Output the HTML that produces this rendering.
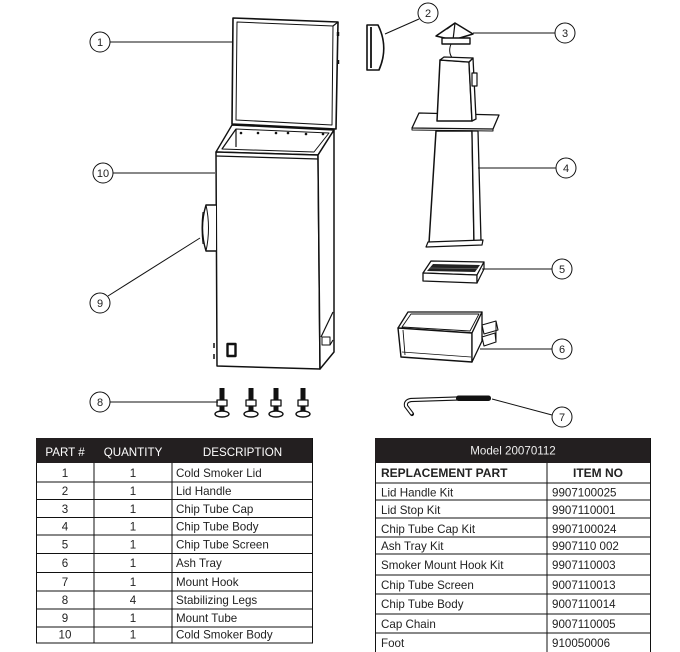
<!DOCTYPE html>
<html><head><meta charset="utf-8"><style>
html,body{margin:0;padding:0;background:#fff;}
svg{display:block;}
text{font-family:"Liberation Sans",Arial,sans-serif;}
</style></head><body>
<svg width="680" height="652" viewBox="0 0 680 652" xmlns="http://www.w3.org/2000/svg">
<rect width="680" height="652" fill="#fff"/>
<g stroke="#111" stroke-width="1.2" fill="none" stroke-linejoin="round">
<!-- LID -->
<polygon points="233,18 338,22 336,129 232,124" fill="#fff" stroke-width="1.6"/>
<polygon points="237,22 333,26 332,125 236,120" stroke-width="1"/>
<line x1="333" y1="26" x2="338" y2="22"/>
<line x1="338" y1="32" x2="338" y2="36" stroke-width="2.5"/>
<line x1="338" y1="60" x2="338" y2="64" stroke-width="2.5"/>
<!-- BODY rim -->
<polygon points="216,152 318,155 334,130 232,125" fill="#fff" stroke-width="1.4"/>
<polygon points="222,149 314,152 329,133 236,129" stroke-width="1"/>
<line x1="236" y1="129" x2="236" y2="147"/>
<line x1="236" y1="129" x2="222" y2="149"/>
<!-- front face -->
<polygon points="216,152 318,155 320,369 217,366" fill="#fff" stroke-width="1.5"/>
<line x1="216" y1="156" x2="318" y2="159"/>
<!-- right side -->
<polygon points="318,155 334,130 334,352 320,369" fill="#fff" stroke-width="1.5"/>
<line x1="333" y1="312" x2="321" y2="337"/>
<rect x="322" y="337" width="8" height="8" stroke-width="1"/>
<line x1="330" y1="345" x2="333" y2="340"/>
<!-- holes -->
<g fill="#111" stroke="none">
<circle cx="241" cy="133" r="1.3"/><circle cx="258" cy="133" r="1.3"/><circle cx="276" cy="133" r="1.3"/>
<circle cx="288" cy="133" r="1.3"/><circle cx="306" cy="134" r="1.3"/><circle cx="323" cy="134" r="1.3"/>
</g>
<!-- front small rect -->
<rect x="227.5" y="344" width="8" height="12" stroke-width="2.4"/>
<line x1="214" y1="343" x2="214" y2="348" stroke-width="1.5"/>
<line x1="214" y1="354" x2="214" y2="359" stroke-width="1.5"/>
<!-- mount tube 9 -->
<path d="M216,205 L206,205 Q199,228 206,251 L216,251" fill="#fff" stroke-width="1.4"/>
<path d="M206,205 Q211,228 206,251" stroke-width="1"/>
<path d="M203,212 Q201,228 203,244" stroke-width="1"/>
<!-- legs -->
<g id="leg">
<rect x="219.5" y="388" width="5" height="13" fill="#111" stroke="none"/>
<rect x="217" y="400" width="10" height="6" fill="#fff" stroke-width="1.3"/>
<rect x="219.5" y="406" width="5" height="6" fill="#111" stroke="none"/>
<ellipse cx="222" cy="414" rx="7" ry="3" fill="#fff" stroke-width="1.4"/>
</g>
<use href="#leg" x="29"/>
<use href="#leg" x="54"/>
<use href="#leg" x="81"/>
<!-- HANDLE 2 -->
<path d="M367,25 L378,25 Q389,47 379,70 L367,70 Z" fill="#fff" stroke-width="1.6"/>
<line x1="371" y1="27" x2="371" y2="68" stroke-width="1.8"/>
<!-- CAP 3 -->
<polygon points="436,36 455,23 473,34 453,40" fill="#fff" stroke-width="1.5"/>
<line x1="455" y1="23" x2="453" y2="40"/>
<line x1="455" y1="23" x2="447" y2="29"/>
<rect x="442" y="38" width="28" height="6" fill="#fff" stroke-width="1.4"/>
<path d="M451,44 Q447,54 455,61 Q466,67 470,73" stroke-width="1"/>
<!-- FLANGE & TUBE 4 -->
<polygon points="419,113 499,115 493,129 412,128" fill="#fff" stroke-width="1.3"/>
<polyline points="412,128 412,130 493,131 493,129" stroke-width="1"/>
<polygon points="440,60 469,62 472,121 437,121" fill="#fff" stroke-width="1.5"/>
<polygon points="469,62 473,58 476,119 472,121" fill="#fff" stroke-width="1.3"/>
<polygon points="440,60 444,57 473,58 469,62" fill="#fff" stroke-width="1.3"/>
<rect x="472" y="73" width="5" height="13" fill="#fff" stroke-width="1.2"/>
<polygon points="436,131 472,131 474,243 429,243" fill="#fff" stroke-width="1.5"/>
<polygon points="472,131 478,131 481,241 474,243" fill="#fff" stroke-width="1.3"/>
<polygon points="426,247 428,242 483,240 482,245" fill="#fff" stroke-width="1.2"/>
<!-- SCREEN 5 -->
<polygon points="431,261 484,262 477,275 423,273" fill="#fff" stroke-width="1.3"/>
<polygon points="423,273 477,275 477,283 423,281" fill="#fff" stroke-width="1.3"/>
<polygon points="477,275 484,262 484,269 477,283" fill="#fff" stroke-width="1.2"/>
<polygon points="433,264 480,265 475,272 427,271" fill="#222" stroke="none"/>
<line x1="430" y1="268" x2="478" y2="268.5" stroke="#888" stroke-width="0.6"/>
<!-- ASH TRAY 6 -->
<polygon points="408,312 482,312 472,333 398,328" fill="#fff" stroke-width="1.3"/>
<polygon points="411,314 479,314 470,331 402,327" stroke-width="0.9"/>
<polygon points="398,328 472,333 472,362 401,357" fill="#fff" stroke-width="1.4"/>
<line x1="403" y1="330" x2="405" y2="355" stroke-width="0.9"/>
<line x1="402" y1="352" x2="471" y2="357" stroke-width="0.8"/>
<polygon points="472,333 482,312 482,341 472,362" fill="#fff" stroke-width="1.3"/>
<polygon points="482,325 496,321 498,330 484,334" fill="#fff" stroke-width="1.1"/>
<polygon points="482,337 495,333 496,342 484,346" fill="#fff" stroke-width="1.1"/>
<line x1="496" y1="321" x2="496" y2="342" stroke-width="1"/>
<!-- HOOK 7 -->
<path d="M458,398.5 L411,400 Q405,401 406,406 L412,414" stroke="#111" stroke-width="4.2" stroke-linecap="round"/>
<path d="M458,398.5 L411,400 Q405,401 406,406 L412,414" stroke="#fff" stroke-width="2"/>
<rect x="456" y="395.5" width="35" height="5.5" rx="2.5" fill="#111" stroke="none"/>
<!-- LEADERS -->
<g stroke-width="1">
<line x1="110" y1="42" x2="232" y2="42"/>
<line x1="419" y1="19" x2="385" y2="34"/>
<line x1="473" y1="33" x2="555" y2="33"/>
<line x1="478" y1="168" x2="556" y2="168"/>
<line x1="113" y1="173" x2="215" y2="173"/>
<line x1="108" y1="296" x2="200" y2="238"/>
<line x1="482" y1="269" x2="552" y2="269"/>
<line x1="480" y1="349" x2="552" y2="349"/>
<line x1="492" y1="399" x2="552" y2="415"/>
<line x1="110" y1="402" x2="218" y2="402"/>
</g>
<!-- CIRCLES -->
<g stroke-width="1" fill="#fff">
<circle cx="100" cy="42" r="10"/>
<circle cx="428" cy="13" r="10"/>
<circle cx="565" cy="33" r="10"/>
<circle cx="566" cy="168" r="10"/>
<circle cx="103" cy="173" r="10"/>
<circle cx="100" cy="303" r="10"/>
<circle cx="562" cy="269" r="10"/>
<circle cx="562" cy="349" r="10"/>
<circle cx="562" cy="417" r="10"/>
<circle cx="100" cy="402" r="10"/>
</g>
</g>
<g font-size="11" fill="#222" text-anchor="middle">
<text x="100" y="46">1</text>
<text x="428" y="17">2</text>
<text x="565" y="37">3</text>
<text x="566" y="172">4</text>
<text x="103" y="177">10</text>
<text x="100" y="307">9</text>
<text x="562" y="273">5</text>
<text x="562" y="353">6</text>
<text x="562" y="421">7</text>
<text x="100" y="406">8</text>
</g>

<!-- LEFT TABLE -->
<rect x="36" y="438" width="277" height="25" fill="#231f20"/>
<g font-size="11.6" fill="#fff" text-anchor="middle">
<text x="65" y="456">PART #</text>
<text x="133" y="456">QUANTITY</text>
<text x="242.5" y="456">DESCRIPTION</text>
</g>
<g stroke="#111" stroke-width="1">
<line x1="36" y1="482" x2="313" y2="482"/>
<line x1="36" y1="499.5" x2="313" y2="499.5"/>
<line x1="36" y1="517.5" x2="313" y2="517.5"/>
<line x1="36" y1="535" x2="313" y2="535"/>
<line x1="36" y1="553.5" x2="313" y2="553.5"/>
<line x1="36" y1="572.5" x2="313" y2="572.5"/>
<line x1="36" y1="591" x2="313" y2="591"/>
<line x1="36" y1="609" x2="313" y2="609"/>
<line x1="36" y1="627" x2="313" y2="627"/>
<line x1="36" y1="643" x2="313" y2="643"/>
<line x1="36.5" y1="463" x2="36.5" y2="643"/>
<line x1="94" y1="463" x2="94" y2="643"/>
<line x1="172" y1="463" x2="172" y2="643"/>
<line x1="312.5" y1="438" x2="312.5" y2="643"/>
</g>
<g font-size="11.6" fill="#222">
<g text-anchor="middle">
<text x="65" y="477">1</text><text x="133" y="477">1</text>
<text x="65" y="495">2</text><text x="133" y="495">1</text>
<text x="65" y="513">3</text><text x="133" y="513">1</text>
<text x="65" y="530.5">4</text><text x="133" y="530.5">1</text>
<text x="65" y="548.5">5</text><text x="133" y="548.5">1</text>
<text x="65" y="567">6</text><text x="133" y="567">1</text>
<text x="65" y="586">7</text><text x="133" y="586">1</text>
<text x="65" y="604">8</text><text x="133" y="604">4</text>
<text x="65" y="622">9</text><text x="133" y="622">1</text>
<text x="65" y="638.5">10</text><text x="133" y="638.5">1</text>
</g>
<text x="176" y="477">Cold Smoker Lid</text>
<text x="176" y="495">Lid Handle</text>
<text x="176" y="513">Chip Tube Cap</text>
<text x="176" y="530.5">Chip Tube Body</text>
<text x="176" y="548.5">Chip Tube Screen</text>
<text x="176" y="567">Ash Tray</text>
<text x="176" y="586">Mount Hook</text>
<text x="176" y="604">Stabilizing Legs</text>
<text x="176" y="622">Mount Tube</text>
<text x="176" y="638.5">Cold Smoker Body</text>
</g>

<!-- RIGHT TABLE -->
<rect x="375" y="438" width="276" height="25" fill="#231f20"/>
<text x="513" y="454.5" font-size="11.6" fill="#eee" text-anchor="middle">Model 20070112</text>
<g stroke="#111" stroke-width="1">
<line x1="375" y1="483" x2="651" y2="483"/>
<line x1="375" y1="500" x2="651" y2="500"/>
<line x1="375" y1="518" x2="651" y2="518"/>
<line x1="375" y1="537" x2="651" y2="537"/>
<line x1="375" y1="554" x2="651" y2="554"/>
<line x1="375" y1="575" x2="651" y2="575"/>
<line x1="375" y1="594" x2="651" y2="594"/>
<line x1="375" y1="614" x2="651" y2="614"/>
<line x1="375" y1="633" x2="651" y2="633"/>
<line x1="375.5" y1="463" x2="375.5" y2="652"/>
<line x1="547" y1="463" x2="547" y2="652"/>
<line x1="650.5" y1="438" x2="650.5" y2="652"/>
</g>
<g font-size="12" font-weight="bold" fill="#222">
<text x="381" y="477">REPLACEMENT PART</text>
<text x="598" y="477" text-anchor="middle">ITEM NO</text>
</g>
<g font-size="11.6" fill="#222">
<text x="381" y="496.5">Lid Handle Kit</text><text x="552" y="496.5">9907100025</text>
<text x="381" y="514">Lid Stop Kit</text><text x="552" y="514">9907110001</text>
<text x="381" y="533">Chip Tube Cap Kit</text><text x="552" y="533">9907100024</text>
<text x="381" y="550">Ash Tray Kit</text><text x="552" y="550">9907110 002</text>
<text x="381" y="569">Smoker Mount Hook Kit</text><text x="552" y="569">9907110003</text>
<text x="381" y="589">Chip Tube Screen</text><text x="552" y="589">9007110013</text>
<text x="381" y="608">Chip Tube Body</text><text x="552" y="608">9007110014</text>
<text x="381" y="628">Cap Chain</text><text x="552" y="628">9007110005</text>
<text x="381" y="647">Foot</text><text x="552" y="647">910050006</text>
</g>
</svg>
</body></html>
